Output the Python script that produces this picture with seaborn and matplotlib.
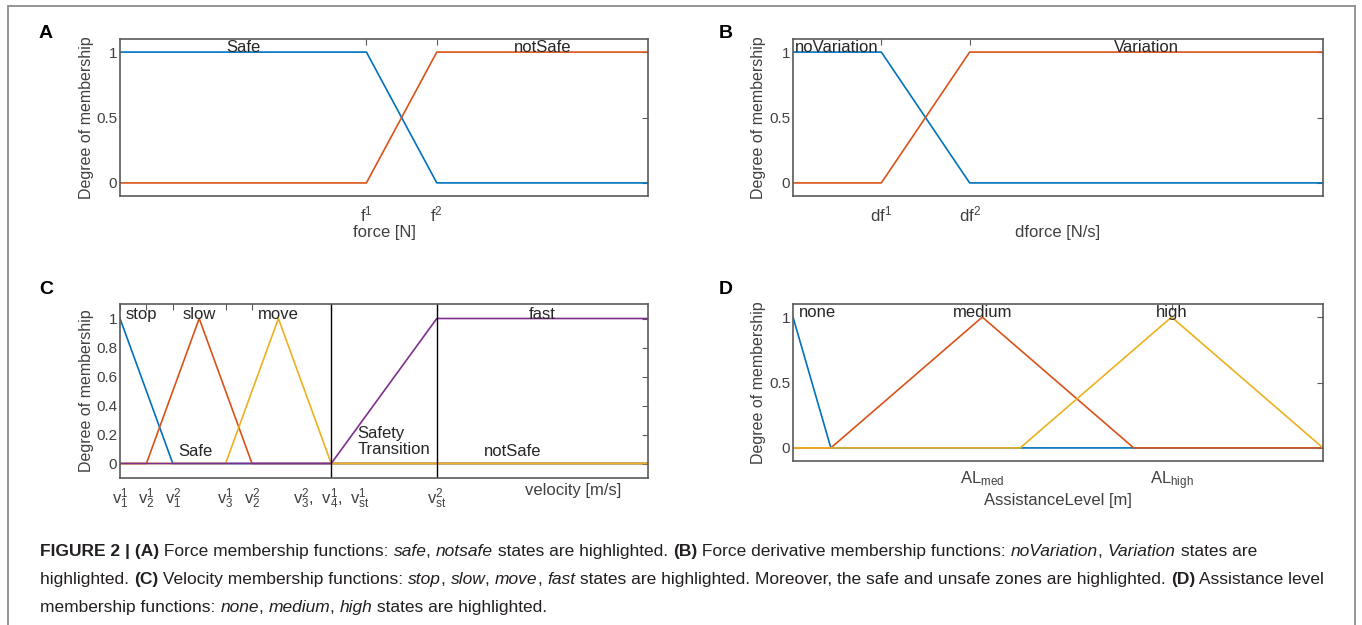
import matplotlib
matplotlib.use("Agg")
import matplotlib.pyplot as plt
import seaborn as sns
from matplotlib.lines import Line2D

# ---- Data ----
# (A) force [N]
force_x = [0, 7, 9, 15]
force_safe = [1, 1, 0, 0]
force_notsafe = [0, 0, 1, 1]
force_ticks = [7, 9]
force_ticklabels = [r"$\mathregular{f^1}$", r"$\mathregular{f^2}$"]

# (B) dforce [N/s]
dforce_x = [0, 1, 2, 6]
dforce_novar = [1, 1, 0, 0]
dforce_var = [0, 0, 1, 1]
dforce_ticks = [1, 2]
dforce_ticklabels = [r"$\mathregular{df^1}$", r"$\mathregular{df^2}$"]

# (C) velocity [m/s]
vel_stop_x = [0, 0.1, 1]
vel_stop_y = [1, 0, 0]
vel_slow_x = [0, 0.05, 0.15, 0.25, 1]
vel_slow_y = [0, 0, 1, 0, 0]
vel_move_x = [0, 0.2, 0.3, 0.4, 1]
vel_move_y = [0, 0, 1, 0, 0]
vel_fast_x = [0, 0.4, 0.6, 1]
vel_fast_y = [0, 0, 1, 1]
vel_zones = [0.4, 0.6]
vel_ticks = [0, 0.05, 0.1, 0.2, 0.25, 0.4, 0.6]
vel_ticklabels = [r"$\mathregular{v_1^1}$", r"$\mathregular{v_2^1}$", r"$\mathregular{v_1^2}$",
                  r"$\mathregular{v_3^1}$", r"$\mathregular{v_2^2}$",
                  r"$\mathregular{v_3^2,\ v_4^1,\ v_{st}^1}$", r"$\mathregular{v_{st}^2}$"]

# (D) AssistanceLevel [m]
al_none_x = [0, 1, 14]
al_none_y = [1, 0, 0]
al_med_x = [0, 1, 5, 9, 14]
al_med_y = [0, 0, 1, 0, 0]
al_high_x = [0, 6, 10, 14]
al_high_y = [0, 0, 1, 0]
al_ticks = [5, 10]
al_ticklabels = [r"$\mathregular{AL_{med}}$", r"$\mathregular{AL_{high}}$"]

# MATLAB default line colours
BLUE, RED, YELLOW, PURPLE = "#0072BD", "#D95319", "#EDB120", "#7E2F8E"

# ---- Style ----
sns.set_theme(style="white")
plt.rcParams["font.family"] = ["Liberation Sans", "DejaVu Sans"]
plt.rcParams["mathtext.fontset"] = "custom"
AX_GRAY = "#5a5a5a"
TXT = "#404040"
FS = 12

W, H = 1362, 625
fig = plt.figure(figsize=(W / 100, H / 100), dpi=100)


def px_axes(left, top, right, bottom):
    return fig.add_axes([left / W, 1 - bottom / H, (right - left) / W, (bottom - top) / H])


def draw_mf(ax, x, y, color, name):
    sns.lineplot(x=x, y=y, ax=ax, color=color, lw=1.2, sort=False, estimator=None)
    top = [xi for xi, yi in zip(x, y) if yi == 1]
    xc = (top[0] + top[-1]) / 2
    if xc == x[0]:
        ax.annotate(name, (xc, 1), xytext=(4, 0), textcoords="offset points",
                    ha="left", va="baseline", fontsize=FS, color="#262626")
    else:
        ax.text(xc, 1, name, ha="center", va="baseline", fontsize=FS, color="#262626")


def style_ax(ax, xlim, yticks, yticklabels, xticks, xticklabels, xlabel, xlab_pos):
    ax.set_xlim(xlim)
    ax.set_ylim(-0.1, 1.1)
    ax.set_yticks(yticks)
    ax.set_yticklabels(yticklabels)
    ax.set_xticks(xticks)
    ax.set_xticklabels(xticklabels)
    ax.tick_params(direction="in", length=4, width=0.8, color=AX_GRAY, labelcolor=TXT,
                   top=True, right=True)
    ax.tick_params(axis="x", pad=6, labelsize=FS)
    ax.tick_params(axis="y", pad=2, labelsize=11)
    for s in ax.spines.values():
        s.set_color(AX_GRAY)
        s.set_linewidth(1.2)
    ax.set_xlabel(xlabel, fontsize=FS, color=TXT, va="center")
    ax.xaxis.set_label_coords(*xlab_pos)
    ax.set_ylabel("Degree of membership", fontsize=11.5, color=TXT, va="center")
    ax.yaxis.set_label_coords(-34 / ax.bbox.width * fig.dpi / 100, 0.5)


# ---- (A) ----
axA = px_axes(120, 39, 648, 196)
draw_mf(axA, force_x, force_safe, BLUE, "Safe")
draw_mf(axA, force_x, force_notsafe, RED, "notSafe")
style_ax(axA, (0, 15), [0, 0.5, 1], ["0", "0.5", "1"], force_ticks, force_ticklabels,
         "force [N]", (0.5, -0.235))

# ---- (B) ----
axB = px_axes(793, 39, 1323, 196)
draw_mf(axB, dforce_x, dforce_novar, BLUE, "noVariation")
draw_mf(axB, dforce_x, dforce_var, RED, "Variation")
style_ax(axB, (0, 6), [0, 0.5, 1], ["0", "0.5", "1"], dforce_ticks, dforce_ticklabels,
         "dforce [N/s]", (0.5, -0.235))

# ---- (C) ----
axC = px_axes(120, 304, 648, 478)
draw_mf(axC, vel_stop_x, vel_stop_y, BLUE, "stop")
draw_mf(axC, vel_slow_x, vel_slow_y, RED, "slow")
draw_mf(axC, vel_move_x, vel_move_y, YELLOW, "move")
draw_mf(axC, vel_fast_x, vel_fast_y, PURPLE, "fast")
for xv in vel_zones:
    axC.axvline(xv, color="black", lw=1.0)
axC.text(0.142, 0.08, "Safe", ha="center", va="center", fontsize=FS, color="#262626")
axC.text(0.45, 0.15, "Safety\nTransition", ha="left", va="center", fontsize=FS,
         color="#262626", linespacing=1.1)
axC.text(0.744, 0.08, "notSafe", ha="center", va="center", fontsize=FS, color="#262626")
style_ax(axC, (0, 1), [0, 0.2, 0.4, 0.6, 0.8, 1], ["0", "0.2", "0.4", "0.6", "0.8", "1"],
         vel_ticks, vel_ticklabels, "velocity [m/s]", (0.858, -0.069))

# ---- (D) ----
axD = px_axes(793, 304, 1323, 461)
draw_mf(axD, al_none_x, al_none_y, BLUE, "none")
draw_mf(axD, al_med_x, al_med_y, RED, "medium")
draw_mf(axD, al_high_x, al_high_y, YELLOW, "high")
style_ax(axD, (0, 14), [0, 0.5, 1], ["0", "0.5", "1"], al_ticks, al_ticklabels,
         "AssistanceLevel [m]", (0.5, -0.25))

# ---- panel letters ----
for lab, xp, yp in [("A", 39, 34), ("B", 719, 34), ("C", 39, 290), ("D", 719, 290)]:
    fig.text(xp / W, 1 - yp / H, lab, fontsize=14, fontweight="bold", color="black",
             ha="left", va="center")

# ---- outer frame ----
FRAME = "#8c8c8c"
fig.add_artist(Line2D([8 / W, 8 / W], [0, 1 - 6 / H], transform=fig.transFigure, color=FRAME, lw=1.3))
fig.add_artist(Line2D([8 / W, 1355 / W], [1 - 6 / H, 1 - 6 / H], transform=fig.transFigure, color=FRAME, lw=1.3))
fig.add_artist(Line2D([1355 / W, 1355 / W], [0, 1 - 6 / H], transform=fig.transFigure, color=FRAME, lw=1.3))

# ---- caption with mixed bold / italic runs ----
renderer = fig.canvas.get_renderer()
CAP_KW = dict(fontsize=12.55, color="#231f20")


def run_width(s, **kw):
    t = fig.text(0, 0, "|" + s + "|", **kw)
    w1 = t.get_window_extent(renderer).width
    t.remove()
    t = fig.text(0, 0, "||", **kw)
    w2 = t.get_window_extent(renderer).width
    t.remove()
    return w1 - w2


def draw_runs(x_px, y_px, runs):
    x = x_px
    for s, sty in runs:
        kw = dict(CAP_KW)
        if sty == "b":
            kw["fontweight"] = "bold"
        elif sty == "i":
            kw["fontstyle"] = "italic"
        fig.text(x / W, 1 - y_px / H, s, ha="left", va="baseline", **kw)
        x += run_width(s, **kw)


caption = [
    [("FIGURE 2 | (A)", "b"), (" Force membership functions: ", ""), ("safe", "i"), (", ", ""),
     ("notsafe", "i"), (" states are highlighted. ", ""), ("(B)", "b"),
     (" Force derivative membership functions: ", ""), ("noVariation", "i"), (", ", ""),
     ("Variation", "i"), (" states are", "")],
    [("highlighted. ", ""), ("(C)", "b"), (" Velocity membership functions: ", ""), ("stop", "i"),
     (", ", ""), ("slow", "i"), (", ", ""), ("move", "i"), (", ", ""), ("fast", "i"),
     (" states are highlighted. Moreover, the safe and unsafe zones are highlighted. ", ""),
     ("(D)", "b"), (" Assistance level", "")],
    [("membership functions: ", ""), ("none", "i"), (", ", ""), ("medium", "i"), (", ", ""),
     ("high", "i"), (" states are highlighted.", "")],
]
for i, line in enumerate(caption):
    draw_runs(40, 556 + i * 28, line)

fig.savefig("out.png", dpi=100)
